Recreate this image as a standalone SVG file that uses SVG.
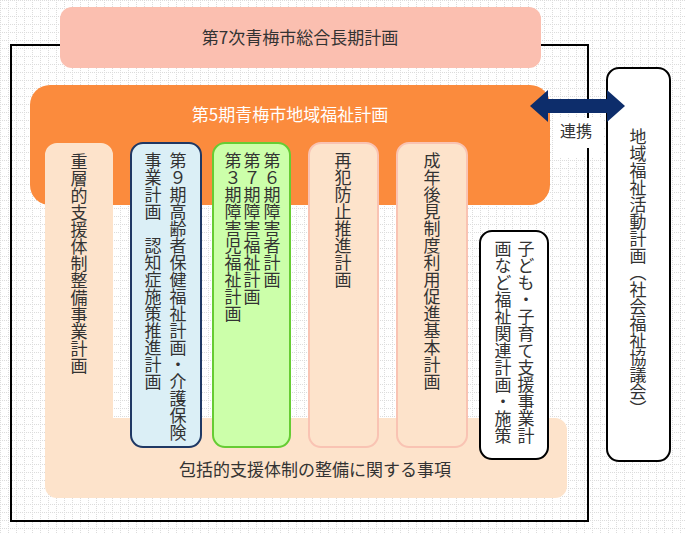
<svg xmlns="http://www.w3.org/2000/svg" width="686" height="534" viewBox="0 0 686 534">
<style>
text{font-family:"Noto Sans CJK JP","Noto Sans",sans-serif;font-size:17px;fill:#333}
.v{writing-mode:vertical-rl;text-orientation:upright}
.peach{fill:#fde3cb}
</style>
<defs>
<pattern id="g" width="8" height="8" patternUnits="userSpaceOnUse">
<path d="M0 0.5H8M0.5 0V8" stroke="#dcdcdc" stroke-width="1" stroke-dasharray="1 1" fill="none"/>
</pattern>
</defs>
<rect width="686" height="534" fill="#fff"/>
<rect width="686" height="534" fill="url(#g)"/>
<g id="frame"><rect x="11" y="45" width="577" height="476" fill="none" stroke="#000" stroke-width="2"/></g>
<g id="plan7"><rect x="60" y="7" width="481" height="61" rx="12" fill="#fbbfb0"/><text x="300" y="44" text-anchor="middle">第7次青梅市総合長期計画</text></g>
<g id="plan5"><rect x="30" y="85" width="520" height="120" rx="20" fill="#fb8b3d"/><text x="290" y="121" text-anchor="middle" style="fill:#fff">第5期青梅市地域福祉計画</text></g>
<g id="houkatsu"><path class="peach" d="M57 143H101A12 12 0 0 1 113 155V418H555A12 12 0 0 1 567 430V486A12 12 0 0 1 555 498H57A12 12 0 0 1 45 486V155A12 12 0 0 1 57 143Z"/>
<text x="315" y="476" text-anchor="middle">包括的支援体制の整備に関する事項</text>
<text class="v" x="79" y="153">重層的支援体制整備事業計画</text></g>
<g id="koureisha"><rect x="131" y="143" width="70" height="304" rx="12" fill="#dbeff6" stroke="#1f3864" stroke-width="2"/>
<text class="v" x="178" y="152">第９期高齢者保健福祉計画・介護保険</text>
<text class="v" x="153" y="152">事業計画　認知症施策推進計画</text></g>
<g id="shougai"><rect x="213" y="143" width="77" height="304" rx="12" fill="#ccffaa" stroke="#66cc33" stroke-width="2"/>
<text class="v" x="272" y="152">第６期障害者計画</text>
<text class="v" x="252" y="152">第７期障害福祉計画</text>
<text class="v" x="233" y="152">第３期障害児福祉計画</text></g>
<g id="saihan"><rect x="309" y="143" width="69" height="304" rx="12" fill="#fde3cb" stroke="#f9c3b3" stroke-width="2"/>
<text class="v" x="343" y="152">再犯防止推進計画</text></g>
<g id="seinen"><rect x="397" y="143" width="70" height="304" rx="12" fill="#fde3cb" stroke="#f9c3b3" stroke-width="2"/>
<text class="v" x="432" y="152">成年後見制度利用促進基本計画</text></g>
<g id="kodomo"><rect x="480" y="231" width="68" height="228" rx="12" fill="#fff" stroke="#000" stroke-width="2"/>
<text class="v" x="526" y="240">子ども・子育て支援事業計</text>
<text class="v" x="503" y="240">画など福祉関連計画・施策</text></g>
<g id="shakyo"><rect x="607" y="68" width="63" height="393" rx="12" fill="#fff" stroke="#000" stroke-width="2"/>
<text class="v" x="638" y="128">地域福祉活動計画（社会福祉協議会）</text></g>
<g id="connectors">
<rect x="553" y="118" width="50" height="40" fill="#fff"/>
<path d="M530 106L548 90V99H607V90L625 106L607 122V113H548V122Z" fill="#0d2d6b"/>
<line x1="588" y1="148" x2="588" y2="158" stroke="#000" stroke-width="2"/>
<text x="576" y="137" text-anchor="middle" style="font-size:16px">連携</text>
</g>
</svg>
